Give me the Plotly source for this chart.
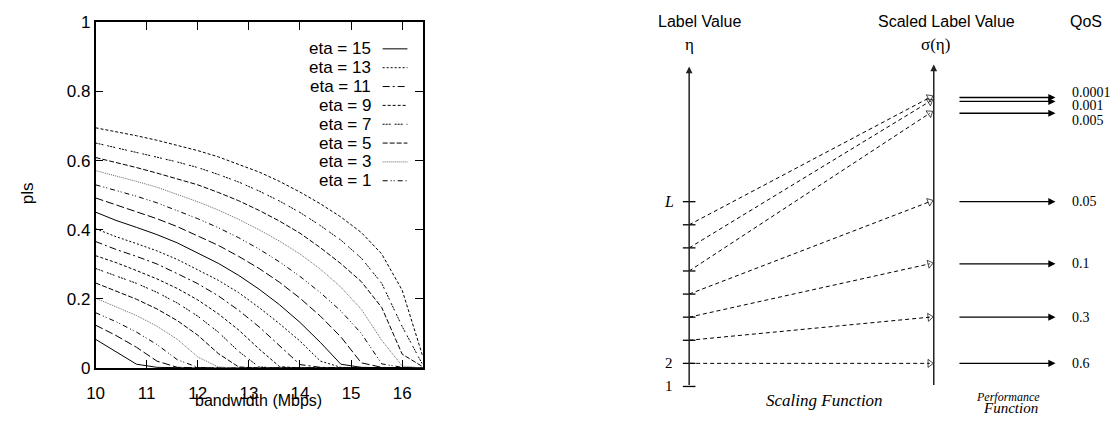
import plotly.graph_objects as go

# ---------------- data: left panel ----------------
bandwidth = [10.0, 10.4, 10.8, 11.2, 11.6, 12.0, 12.4, 12.8, 13.2, 13.6,
             14.0, 14.4, 14.8, 15.2, 15.6, 16.0, 16.4]

pls_c1 = [0.083, 0.047, 0.011, 0.002, 0, 0, 0, 0, 0, 0, 0, 0, 0, 0, 0, 0, 0]
pls_c2 = [0.124, 0.094, 0.060, 0.020, 0.002, 0, 0, 0, 0, 0, 0, 0, 0, 0, 0, 0, 0]
pls_c3 = [0.160, 0.134, 0.104, 0.068, 0.024, 0.002, 0, 0, 0, 0, 0, 0, 0, 0, 0, 0, 0]
pls_c4 = [0.202, 0.178, 0.152, 0.121, 0.083, 0.032, 0.003, 0, 0, 0, 0, 0, 0, 0, 0, 0, 0]
pls_c5 = [0.246, 0.223, 0.199, 0.171, 0.137, 0.095, 0.042, 0.003, 0, 0, 0, 0, 0, 0, 0, 0, 0]
pls_c6 = [0.288, 0.267, 0.245, 0.219, 0.188, 0.150, 0.104, 0.048, 0.003, 0, 0, 0, 0, 0, 0, 0, 0]
pls_c7 = [0.325, 0.305, 0.282, 0.258, 0.230, 0.197, 0.157, 0.110, 0.055, 0.004, 0, 0, 0, 0, 0, 0, 0]
pls_c8 = [0.366, 0.343, 0.323, 0.301, 0.273, 0.244, 0.209, 0.167, 0.119, 0.064, 0.010, 0.002, 0, 0, 0, 0, 0]
pls_c9 = [0.403, 0.380, 0.360, 0.339, 0.314, 0.285, 0.254, 0.218, 0.175, 0.128, 0.078, 0.020, 0.002, 0, 0, 0, 0]
pls_c10 = [0.451, 0.427, 0.407, 0.386, 0.362, 0.333, 0.303, 0.268, 0.228, 0.183, 0.132, 0.074, 0.011, 0.002, 0, 0, 0]
pls_c11 = [0.492, 0.472, 0.453, 0.432, 0.409, 0.383, 0.355, 0.323, 0.288, 0.248, 0.202, 0.150, 0.090, 0.015, 0.002, 0, 0]
pls_c12 = [0.530, 0.514, 0.497, 0.478, 0.456, 0.432, 0.406, 0.377, 0.344, 0.307, 0.265, 0.218, 0.165, 0.100, 0.012, 0.002, 0]
pls_c13 = [0.571, 0.556, 0.540, 0.523, 0.503, 0.481, 0.457, 0.430, 0.400, 0.367, 0.330, 0.286, 0.234, 0.170, 0.080, 0.006, 0]
pls_c14 = [0.609, 0.595, 0.580, 0.564, 0.548, 0.530, 0.508, 0.484, 0.456, 0.425, 0.390, 0.348, 0.302, 0.250, 0.175, 0.040, 0.004]
pls_c15 = [0.651, 0.638, 0.624, 0.610, 0.596, 0.580, 0.560, 0.538, 0.512, 0.483, 0.450, 0.412, 0.370, 0.318, 0.245, 0.120, 0.010]
pls_c16 = [0.695, 0.684, 0.672, 0.659, 0.645, 0.629, 0.611, 0.590, 0.567, 0.540, 0.509, 0.475, 0.437, 0.392, 0.330, 0.225, 0.035]

legend_labels = ["eta = 15", "eta = 13", "eta = 11", "eta = 9",
                 "eta = 7", "eta = 5", "eta = 3", "eta = 1"]
x_ticks = [10, 11, 12, 13, 14, 15, 16]
y_ticks = [0, 0.2, 0.4, 0.6, 0.8, 1]
y_ticktext = ["0", "0.2", "0.4", "0.6", "0.8", "1"]

# ---------------- data: right panel (diagram) ----------------
label_levels = [1, 2, 3, 4, 5, 6, 7, 8, 9]
label_ticktext = ["1", "2", "", "", "", "", "", "", "L"]
source_levels = [2, 3, 4, 5, 6, 7, 8]
scaled_levels = [2.0, 4.0, 6.31, 9.0, 12.83, 13.34, 13.51]
qos_labels = ["0.6", "0.3", "0.1", "0.05", "0.005", "0.001", "0.0001"]

# ---------------- styles ----------------
curves = [pls_c1, pls_c2, pls_c3, pls_c4, pls_c5, pls_c6, pls_c7, pls_c8,
          pls_c9, pls_c10, pls_c11, pls_c12, pls_c13, pls_c14, pls_c15, pls_c16]
line_types = [
    ("solid", "black"),
    ("2px,2px", "black"),
    ("7px,3px,2px,3px", "black"),
    ("3px,2px", "black"),
    ("2px,1px,2px,1px,2px,4px", "black"),
    ("5px,2px", "black"),
    ("1px,1px", "#666666"),
    ("5px,3px,1px,2px,1px,3px", "black"),
    ("8px,3px", "black"),
]
SANS_N = "Liberation Sans Narrow, Liberation Sans, Arial, sans-serif"
SANS = "Liberation Sans, Arial, sans-serif"
SERIF = "Liberation Serif, Times New Roman, serif"

W, H = 1113, 428


def px_x(sx):
    return sx / W


def px_y(sy):
    return 1 - sy / H


fig = go.Figure()

n = len(curves)
for i, ys in enumerate(curves):
    # curves drawn top-down; gnuplot line types cycle with period 9
    dash, col = line_types[((n - 1 - i) + 3) % len(line_types)]
    fig.add_trace(go.Scatter(
        x=bandwidth, y=ys, mode="lines", showlegend=False,
        line=dict(color=col, width=1, dash=dash),
        xaxis="x", yaxis="y", hoverinfo="skip"))

L_LEFT, L_RIGHT, L_TOP, L_BOTTOM = 87.3, 417.0, 14.0, 375.7
fig.update_layout(
    xaxis=dict(domain=[px_x(L_LEFT), px_x(L_RIGHT)], range=[10, 16.4],
               tickvals=x_ticks, ticks="inside", ticklen=8, mirror="ticks",
               showline=True, linecolor="black", linewidth=1.5,
               tickcolor="black", showgrid=False, zeroline=False,
               ticklabelstandoff=9,
               tickfont=dict(family=SANS_N, size=17, color="black"),
               anchor="y"),
    yaxis=dict(domain=[px_y(L_BOTTOM), px_y(L_TOP)], range=[0, 1],
               tickvals=y_ticks, ticktext=y_ticktext, ticks="inside",
               ticklen=8, mirror="ticks", showline=True, linecolor="black",
               linewidth=1.5, tickcolor="black", showgrid=False,
               zeroline=False,
               tickfont=dict(family=SANS_N, size=17, color="black"),
               anchor="x"),
)

annotations = []
shapes = []
annotations.append(dict(text="bandwidth (Mbps)", x=px_x(252), y=px_y(410),
                        xref="paper", yref="paper", showarrow=False,
                        xanchor="center", yanchor="middle",
                        font=dict(family=SANS_N, size=16, color="black")))
annotations.append(dict(text="pls", x=px_x(19), y=px_y(193), textangle=-90,
                        xref="paper", yref="paper", showarrow=False,
                        xanchor="center", yanchor="middle",
                        font=dict(family=SANS_N, size=17, color="black")))

# gnuplot-style key: text then line sample
for j, lab in enumerate(legend_labels):
    ypx = 41.7 + 19.72 * j
    dash, col = line_types[j]
    annotations.append(dict(text=lab, x=px_x(366.7), y=px_y(ypx),
                            xref="paper", yref="paper", xanchor="right",
                            yanchor="middle", showarrow=False,
                            font=dict(family=SANS_N, size=17, color="black")))
    shapes.append(dict(type="line", xref="paper", yref="paper",
                       x0=px_x(376.7), x1=px_x(401.7),
                       y0=px_y(ypx), y1=px_y(ypx),
                       line=dict(color=col, width=1, dash=dash)))

# ---------------- right diagram ----------------
PX_PER_UNIT = 24.17
Y_LEVEL1_PX = 395.0


def y_of_px(sy):
    return 1 + (Y_LEVEL1_PX - sy) / PX_PER_UNIT


LEFT_AXIS_X = 685.7
SIGMA_X = 932.3
PERF_START = 956.7
PERF_END = 1055.0
QOS_X = 1070.0
AXIS_TOP_LEFT = 14.85
AXIS_TOP_SIGMA = 14.94
qos_offsets = [0, 0, 0, 0, -0.3, -0.18, 0.2]

fig.update_layout(
    xaxis2=dict(domain=[0, 1], range=[0, W], visible=False,
                anchor="y2", fixedrange=True),
    yaxis2=dict(domain=[0, 1], range=[y_of_px(H), y_of_px(0)],
                visible=False, anchor="x2", fixedrange=True),
)

for ax_x, top in [(LEFT_AXIS_X, AXIS_TOP_LEFT), (SIGMA_X, AXIS_TOP_SIGMA)]:
    annotations.append(dict(x=ax_x, y=top, ax=ax_x, ay=label_levels[0],
                            xref="x2", yref="y2", axref="x2", ayref="y2",
                            text="", showarrow=True, arrowhead=2,
                            arrowsize=0.9, arrowwidth=1.5,
                            arrowcolor="#222222"))

fig.add_trace(go.Scatter(
    x=[LEFT_AXIS_X] * len(label_levels), y=label_levels, mode="markers",
    marker=dict(symbol="line-ew", size=9,
                line=dict(color="black", width=1.3)),
    xaxis="x2", yaxis="y2", showlegend=False, hoverinfo="skip"))

for lev, txt in zip(label_levels, label_ticktext):
    if txt:
        italic = txt == "L"
        annotations.append(dict(
            text=f"<i>{txt}</i>" if italic else txt, x=665, y=lev,
            xref="x2", yref="y2", showarrow=False,
            xanchor="center", yanchor="middle",
            font=dict(family=SERIF, size=16 if italic else 15,
                      color="black")))

for src, dst in zip(source_levels, scaled_levels):
    fig.add_trace(go.Scatter(
        x=[LEFT_AXIS_X, SIGMA_X - 4], y=[src, dst], mode="lines+markers",
        line=dict(color="black", width=1, dash="4px,3px"),
        marker=dict(symbol="triangle-up-open", size=[0, 7], angleref="previous",
                    color="black", line=dict(color="black", width=1)),
        xaxis="x2", yaxis="y2", showlegend=False, hoverinfo="skip"))

for dst, q, off in zip(scaled_levels, qos_labels, qos_offsets):
    annotations.append(dict(x=PERF_END, y=dst, ax=PERF_START, ay=dst,
                            xref="x2", yref="y2", axref="x2", ayref="y2",
                            text="", showarrow=True, arrowhead=2,
                            arrowsize=1.1, arrowwidth=1.3,
                            arrowcolor="black"))
    annotations.append(dict(text=q, x=QOS_X, y=dst + off, xref="x2", yref="y2",
                            xanchor="left", yanchor="middle", showarrow=False,
                            font=dict(family=SERIF, size=14, color="black")))

for txt, cx, py, fam, size in [
    ("Label Value", 696, 13.0, SANS, 16),
    ("Scaled Label Value", 945, 13.0, SANS, 16),
    ("QoS", 1086, 13.0, SANS, 16),
    ("η", 686, 37.0, SERIF, 17),
    ("σ(η)", 934, 37.0, SERIF, 17),
    ("<i>Scaling Function</i>", 821.7, 409.3, SERIF, 17),
    ("<i>Performance</i>", 1007, 405.5, SERIF, 12),
    ("<i>Function</i>", 1010, 417.5, SERIF, 15),
]:
    annotations.append(dict(text=txt, x=cx, y=y_of_px(py), xref="x2",
                            yref="y2", showarrow=False,
                            xanchor="center", yanchor="middle",
                            font=dict(family=fam, size=size, color="black")))

fig.update_layout(
    width=W, height=H, margin=dict(l=0, r=0, t=0, b=0, pad=0),
    paper_bgcolor="white", plot_bgcolor="rgba(0,0,0,0)",
    showlegend=False, annotations=annotations, shapes=shapes,
)

fig.write_html("out.html")
